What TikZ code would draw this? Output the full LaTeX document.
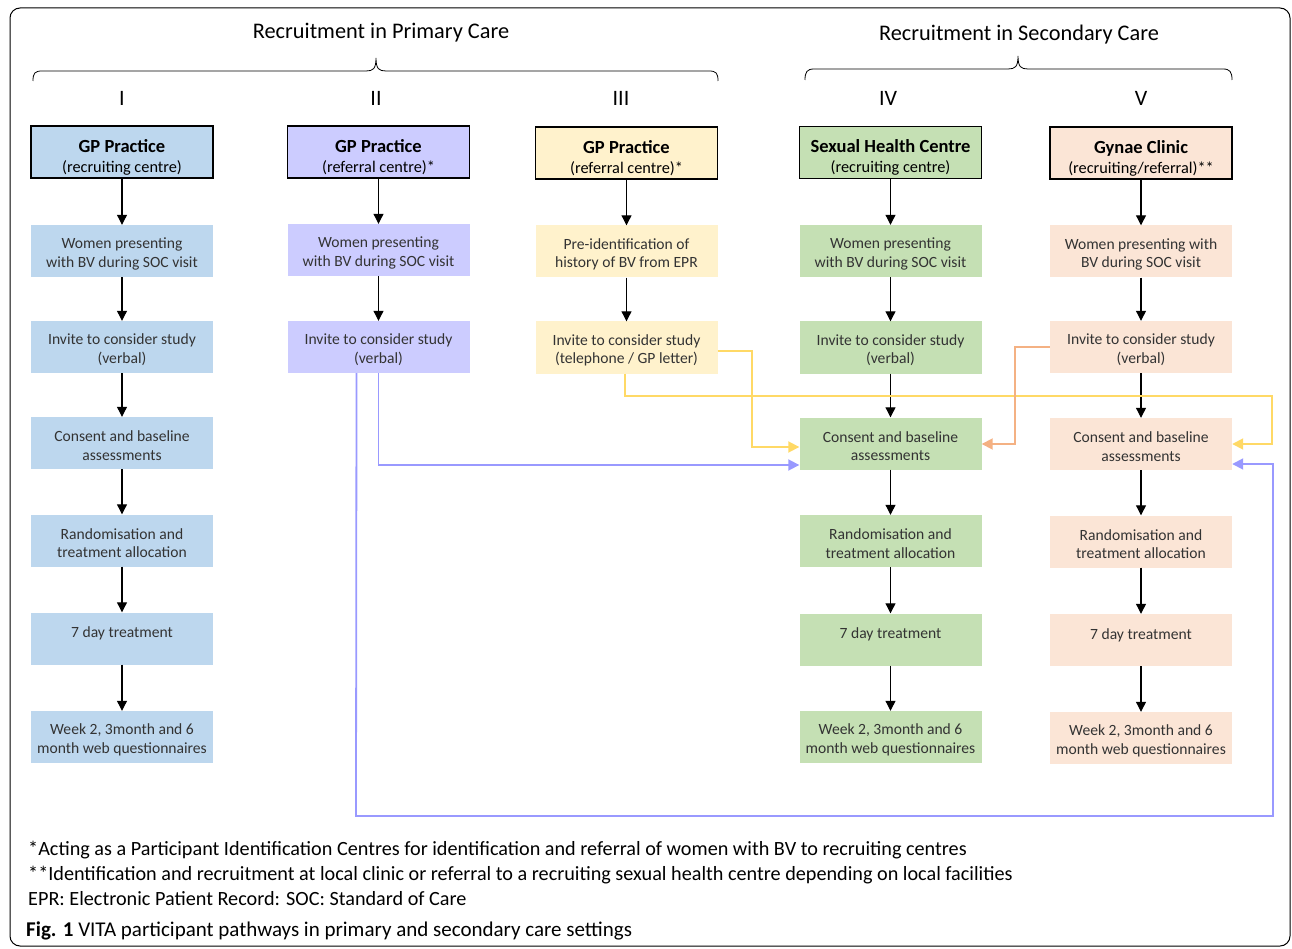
\documentclass[tikz,border=0pt]{standalone}
\usepackage{fontspec}
\setmainfont{Carlito}
\usetikzlibrary{arrows.meta,calc}
\definecolor{cI}{HTML}{BDD7EE}
\definecolor{cII}{HTML}{CCCCFF}
\definecolor{cIII}{HTML}{FFF2CC}
\definecolor{cIV}{HTML}{C5E0B4}
\definecolor{cV}{HTML}{FBE5D6}
\definecolor{lpurple}{HTML}{9999FF}
\definecolor{lyellow}{HTML}{FFD966}
\definecolor{lorange}{HTML}{F4B183}
\definecolor{btext}{HTML}{333333}
\newcommand\hdrstrut{\rule{0pt}{23pt}}
\newcommand\boxstrut{\rule{0pt}{16.5pt}}
\newcommand\hdrtitle[1]{{\bfseries\fontsize{18.5}{20}\selectfont\hdrstrut #1}}
\begin{document}
\begin{tikzpicture}[x=1pt,y=-1pt,
  hdr/.style={draw=black, line width=1.8pt, minimum width=182pt, minimum height=52pt, inner sep=0pt, align=center, font=\fontsize{16.3}{20}\selectfont},
  stepbox/.style={minimum width=182pt, minimum height=52pt, inner sep=0pt, align=center, text=btext, font=\fontsize{15.6}{18.5}\selectfont},
  flow/.style={-{Triangle[length=10pt,width=10pt]}, line width=1.1pt},
  link/.style={line width=1.8pt, -{Triangle[length=11pt,width=11pt]}},
  roman/.style={font=\fontsize{22}{26}\selectfont},
  group/.style={font=\fontsize{22.3}{26}\selectfont},
  note/.style={anchor=west, inner sep=0pt, font=\fontsize{20.2}{24}\selectfont}
]
\useasboundingbox (0,0) rectangle (1292,949);
\draw[rounded corners=10pt, line width=1pt] (10,8) rectangle (1290,946);

% group titles and braces
\node[group] (gp) at (381,33) {Recruitment in Primary Care};
\node[group] (gs) at (1019,35) {Recruitment in Secondary Care};
\draw[line width=0.8pt] (33,81) .. controls (33,73) and (35,71) .. (42,71) -- (366,71) .. controls (373,71) and (376,69) .. (376,58) .. controls (376,69) and (379,71) .. (386,71) -- (709,71) .. controls (716,71) and (718,73) .. (718,81);
\draw[line width=0.8pt] (805,80) .. controls (805,72) and (807,69) .. (814,69) -- (1008,69) .. controls (1015,69) and (1018,67) .. (1018,56) .. controls (1018,67) and (1021,69) .. (1028,69) -- (1223,69) .. controls (1230,69) and (1232,72) .. (1232,80);

\node[roman] (r1) at (122,98) {I};
\node[roman] (r2) at (376,98) {II};
\node[roman] (r3) at (621,98) {III};
\node[roman] (r4) at (888,98) {IV};
\node[roman] (r5) at (1141,98) {V};

% Column I
\node[hdr, fill=cI] (a0) at (122,152) {\hdrtitle{GP Practice}\\(recruiting centre)};
\node[stepbox, fill=cI] (a1) at (122,251) {\boxstrut Women presenting\\with BV during SOC visit};
\node[stepbox, fill=cI] (a2) at (122,347) {\boxstrut Invite to consider study\\(verbal)};
\node[stepbox, fill=cI] (a3) at (122,443) {\boxstrut Consent and baseline\\assessments};
\node[stepbox, fill=cI] (a4) at (122,540.5) {\boxstrut Randomisation and\\treatment allocation};
\node[stepbox, fill=cI] (a5) at (122,638.5) {\boxstrut 7 day treatment\\\mbox{}};
\node[stepbox, fill=cI] (a6) at (122,737) {\boxstrut Week 2, 3month and 6\\month web questionnaires};

% Column II
\node[hdr, fill=cII] (b0) at (378.5,152) {\hdrtitle{GP Practice}\\(referral centre)*};
\node[stepbox, fill=cII] (b1) at (378.5,250) {\boxstrut Women presenting\\with BV during SOC visit};
\node[stepbox, fill=cII] (b2) at (378.5,347) {\boxstrut Invite to consider study\\(verbal)};

% Column III
\node[hdr, fill=cIII] (c0) at (626.5,153) {\hdrtitle{GP Practice}\\(referral centre)*};
\node[stepbox, fill=cIII] (c1) at (626.5,251.5) {\boxstrut Pre-identification of\\history of BV from EPR};
\node[stepbox, fill=cIII] (c2) at (626.5,347.5) {\boxstrut Invite to consider study\\(telephone / GP letter)};

% Column IV
\node[hdr, fill=cIV] (d0) at (890.5,152.5) {\hdrtitle{Sexual Health Centre}\\(recruiting centre)};
\node[stepbox, fill=cIV] (d1) at (890.5,251) {\boxstrut Women presenting\\with BV during SOC visit};
\node[stepbox, fill=cIV] (d2) at (890.5,347.5) {\boxstrut Invite to consider study\\(verbal)};
\node[stepbox, fill=cIV] (d3) at (890.5,443.5) {\boxstrut Consent and baseline\\assessments};
\node[stepbox, fill=cIV] (d4) at (890.5,541) {\boxstrut Randomisation and\\treatment allocation};
\node[stepbox, fill=cIV] (d5) at (890.5,639.5) {\boxstrut 7 day treatment\\\mbox{}};
\node[stepbox, fill=cIV] (d6) at (890.5,737) {\boxstrut Week 2, 3month and 6\\month web questionnaires};

% Column V
\node[hdr, fill=cV] (e0) at (1141,153) {\hdrtitle{Gynae Clinic}\\(recruiting/referral)**};
\node[stepbox, fill=cV] (e1) at (1141,251.5) {\boxstrut Women presenting with\\BV during SOC visit};
\node[stepbox, fill=cV] (e2) at (1141,347) {\boxstrut Invite to consider study\\(verbal)};
\node[stepbox, fill=cV] (e3) at (1141,444) {\boxstrut Consent and baseline\\assessments};
\node[stepbox, fill=cV] (e4) at (1141,541.5) {\boxstrut Randomisation and\\treatment allocation};
\node[stepbox, fill=cV] (e5) at (1141,640) {\boxstrut 7 day treatment\\\mbox{}};
\node[stepbox, fill=cV] (e6) at (1141,738) {\boxstrut Week 2, 3month and 6\\month web questionnaires};

% black flow arrows
\foreach \c/\n in {a/5,d/5,e/5}{
  \foreach \i [evaluate=\i as \j using int(\i+1)] in {0,...,\n}{
    \draw[flow] (\c\i.south) -- (\c\j.north);
  }
}
\draw[flow] (b0.south) -- (b1.north);
\draw[flow] (b1.south) -- (b2.north);
\draw[flow] (c0.south) -- (c1.north);
\draw[flow] (c1.south) -- (c2.north);

% coloured links
\coordinate (p1) at ($(b2.south)+(-22,0)$);
\draw[link, lpurple] (b2.south) |- ($(d3.west)+(0,21.5)$);
\draw[link, lpurple] (p1) -- (356,816) -- (1273,816) -- (1273,464) -- ($(e3.east)+(0,20)$);
\draw[link, lyellow] ($(c2.east)+(0,3.5)$) -- (752,351) -- (752,447) -- ($(d3.west)+(0,3.5)$);
\draw[link, lyellow] ($(c2.south)+(-1.5,0)$) -- (625,396) -- (1272,396) -- (1272,444) -- (e3.east);
\draw[link, lorange] (e2.west) -- (1015,347) -- (1015,444) -- ($(d3.east)+(0,0.5)$);

% notes
\node[note] (n1) at (28,850) {*Acting as a Participant Identification Centres for identification and referral of women with BV to recruiting centres};
\node[note] (n2) at (28,875) {**Identification and recruitment at local clinic or referral to a recruiting sexual health centre depending on local facilities};
\node[note] (n3) at (28,899) {EPR: Electronic Patient Record: SOC: Standard of Care};
\node[note, font=\fontsize{21}{24}\selectfont] (n4) at (26,931) {\textbf{Fig. 1} VITA participant pathways in primary and secondary care settings};
\end{tikzpicture}
\end{document}
